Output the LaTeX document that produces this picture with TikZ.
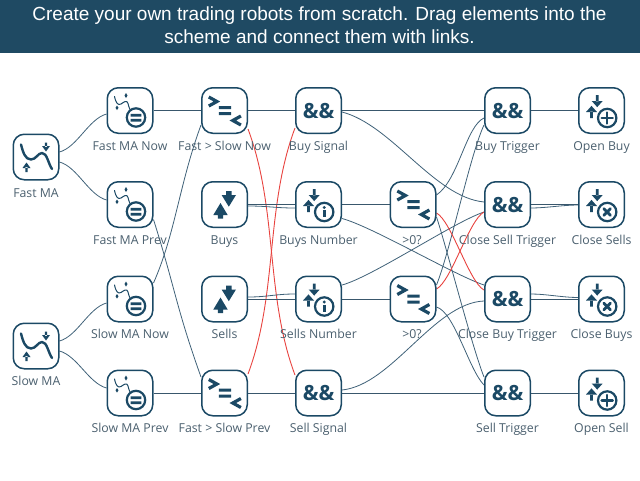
\documentclass[tikz,border=0pt]{standalone}
\usepackage{fontspec}
\setmainfont{Liberation Sans}
\newfontfamily\labfont{Open Sans}
\usetikzlibrary{backgrounds}
\definecolor{navy}{HTML}{1B4965}
\definecolor{banner}{HTML}{1F4A63}
\definecolor{linkc}{HTML}{3F6178}
\definecolor{labc}{HTML}{4A5F6E}
\definecolor{redl}{HTML}{E8433F}
\tikzset{
  box/.style={draw=navy,line width=1.5pt,fill=white,rounded corners=11pt,minimum size=45.5pt,inner sep=0pt,text=navy,font=\labfont\bfseries\fontsize{21}{21}\selectfont},
  lab/.style={anchor=base,inner sep=0pt,text=labc,font=\labfont\fontsize{12.3}{13}\selectfont},
  ttl/.style={anchor=base,inner sep=0pt,text=white,font=\fontsize{19}{21}\selectfont},
  link/.style={draw=linkc,line width=.8pt},
  straight/.style={draw=linkc!90!black,line width=1pt},
  redlink/.style={draw=redl,line width=.9pt},
  ink/.style={fill=navy,draw=none},
  stroke/.style={draw=navy,line width=#1,line cap=round,line join=round},
  iconchart/.pic={
    \draw[stroke=2.4pt] (-15,-12.5) .. controls (-13,-5) and (-11,2.5) .. (-5,2.5) .. controls (0,2.5) and (2,-4) .. (6,-4) .. controls (11,-4) and (12,6) .. (16,12);
    \fill[ink] (8.8,-14.5) rectangle (11.2,-10) (6,-11) -- (14,-11) -- (10,-5.5) -- cycle;
    \fill[ink] (-10.7,15) rectangle (-8.3,10) (-13.5,11) -- (-5.5,11) -- (-9.5,5.5) -- cycle;
  },
  iconma/.pic={
    \draw[stroke=1pt] (-15.5,-14) .. controls (-14,-7) and (-12,-5) .. (-9,-6.5) .. controls (-6,-8.5) and (-3,-11) .. (-2,-7) .. controls (-1.5,-5) and (-1,-3) .. (0,-1);
    \fill[ink] (-4,-17.5) -- (-2.5,-15) -- (-4,-12.5) -- (-5.5,-15) -- cycle;
    \fill[ink] (-13,-5) -- (-11.5,-2.7) -- (-13,-.4) -- (-14.5,-2.7) -- cycle;
    \draw[draw=navy,line width=2.2pt,fill=white] (6,7) circle (9.2);
    \fill[ink] (.6,3.4) rectangle (11.4,6) (.6,8.4) rectangle (11.4,11);
  },
  iconarrows/.pic={
    \fill[ink] (1.6,-13.5) -- (7,-13.5) -- (7,-9.5) -- (11.5,-9.5) -- (4.3,2.2) -- (-2.9,-9.5) -- (1.6,-9.5) -- cycle;
    \fill[ink] (-6.7,14) -- (-1.3,14) -- (-1.3,10.5) -- (3.2,10.5) -- (-4,-1.5) -- (-11.2,10.5) -- (-6.7,10.5) -- cycle;
  },
  iconpair/.pic={
    \fill[ink] (-5.7,-15.5) rectangle (-2.9,-9) (-9.8,-9.5) -- (1.2,-9.5) -- (-4.3,-3.4) -- cycle;
    \fill[ink] (-11.4,7.5) rectangle (-8.6,1) (-15.5,1.5) -- (-4.5,1.5) -- (-10,-4.6) -- cycle;
    \draw[draw=navy,line width=2.2pt,fill=white] (5.7,7.5) circle (9.2);
  },
  iconplus/.pic={
    \pic {iconpair};
    \draw[stroke=2.5pt] (.2,7.5) -- (11.2,7.5) (5.7,2) -- (5.7,13);
  },
  iconx/.pic={
    \pic {iconpair};
    \draw[stroke=2.8pt] (2.4,4.2) -- (9,10.8) (9,4.2) -- (2.4,10.8);
  },
  iconinfo/.pic={
    \pic {iconpair};
    \fill[ink] (5.7,3) circle (1.6);
    \fill[ink] (4.3,5.6) rectangle (7.1,12.8);
  },
  icongel/.pic={
    \draw[stroke=3.2pt,line cap=butt,line join=miter] (-15.7,-13.5) -- (-7.6,-9) -- (-15.7,-4.5);
    \fill[ink] (-5.7,-4.3) rectangle (6.7,-1.4) (-5.7,1.6) rectangle (6.7,4.5);
    \draw[stroke=3.2pt,line cap=butt,line join=miter] (16.4,5.5) -- (8.3,10) -- (16.4,14.5);
  },
}
\begin{document}
\begin{tikzpicture}[x=1pt,y=-1pt]
\useasboundingbox (0,0) rectangle (640,480);
\fill[banner] (0,0) rectangle (640,53);
\node[ttl] (t1) at (319.5,20) {Create your own trading robots from scratch. Drag elements into the};
\node[ttl] (t2) at (319.5,43) {scheme and connect them with links.};
% boxes
\node[box] (fm) at (36,157) {};
\node[box] (sm) at (36,346) {};
\node[box] (fmn) at (130,110.5) {};
\node[box] (fmp) at (130,204.5) {};
\node[box] (smn) at (130,299) {};
\node[box] (smp) at (130,393) {};
\node[box] (fsn) at (224.5,110.5) {};
\node[box] (buys) at (224.5,204.5) {};
\node[box] (sells) at (224.5,299) {};
\node[box] (fsp) at (224.5,393) {};
\node[box] (bs) at (318.5,110.5) {\&\&};
\node[box] (bn) at (318.5,204.5) {};
\node[box] (sn) at (318.5,299) {};
\node[box] (ss) at (318.5,393) {\&\&};
\node[box] (g1) at (413,204.5) {};
\node[box] (g2) at (413,299) {};
\node[box] (bt) at (507.5,110.5) {\&\&};
\node[box] (cst) at (507.5,204.5) {\&\&};
\node[box] (cbt) at (507.5,299) {\&\&};
\node[box] (st) at (507.5,393) {\&\&};
\node[box] (ob) at (601.5,110.5) {};
\node[box] (cs) at (601.5,204.5) {};
\node[box] (cb) at (601.5,299) {};
\node[box] (os) at (601.5,393) {};
% icons
\pic at (fm) {iconchart};
\pic at (sm) {iconchart};
\pic at (fmn) {iconma};
\pic at (fmp) {iconma};
\pic at (smn) {iconma};
\pic at (smp) {iconma};
\pic at (fsn) {icongel};
\pic at (fsp) {icongel};
\pic at (g1) {icongel};
\pic at (g2) {icongel};
\pic at (buys) {iconarrows};
\pic at (sells) {iconarrows};
\pic at (bn) {iconinfo};
\pic at (sn) {iconinfo};
\pic at (ob) {iconplus};
\pic at (os) {iconplus};
\pic at (cs) {iconx};
\pic at (cb) {iconx};
% labels
\node[lab] (lfm) at (36,197) {Fast MA};
\node[lab] (lsm) at (36,385) {Slow MA};
\node[lab] (lfmn) at (130,150) {Fast MA Now};
\node[lab] (lfmp) at (130,244) {Fast MA Prev};
\node[lab] (lsmn) at (130,338) {Slow MA Now};
\node[lab] (lsmp) at (130,432) {Slow MA Prev};
\node[lab] (lfsn) at (224.5,150) {Fast > Slow Now};
\node[lab] (lbuys) at (224.5,244) {Buys};
\node[lab] (lsells) at (224.5,338) {Sells};
\node[lab] (lfsp) at (224.5,432) {Fast > Slow Prev};
\node[lab] (lbs) at (318.5,150) {Buy Signal};
\node[lab] (lbn) at (318.5,244) {Buys Number};
\node[lab] (lsn) at (318.5,338) {Sells Number};
\node[lab] (lss) at (318.5,432) {Sell Signal};
\node[lab] (lg1) at (412,244) {>0?};
\node[lab] (lg2) at (412,338) {>0?};
\node[lab] (lbt) at (507.5,150) {Buy Trigger};
\node[lab] (lcst) at (507.5,244) {Close Sell Trigger};
\node[lab] (lcbt) at (507.5,338) {Close Buy Trigger};
\node[lab] (lst) at (507.5,432) {Sell Trigger};
\node[lab] (lob) at (601.5,150) {Open Buy};
\node[lab] (lcs) at (601.5,244) {Close Sells};
\node[lab] (lcb) at (601.5,338) {Close Buys};
\node[lab] (los) at (601.5,432) {Open Sell};
% connectors
\begin{scope}[on background layer]
\draw[link] ([yshift=5pt]fm.east) .. controls +(18,-5) and +(-18,5) .. ([yshift=-3.5pt]fmn.west);
\draw[link] ([yshift=-5pt]fm.east) .. controls +(18,5) and +(-18,-5) .. ([yshift=4.5pt]fmp.west);
\draw[link] ([yshift=5pt]sm.east) .. controls +(18,-5) and +(-18,5) .. ([yshift=-4pt]smn.west);
\draw[link] ([yshift=-5pt]sm.east) .. controls +(18,5) and +(-18,-5) .. ([yshift=5pt]smp.west);
\draw[straight] (fmn) -- (fsn);
\draw[straight] (smp) -- (fsp);
\draw[link] ([yshift=-15pt]fmp.east) .. controls +(22,70) and +(-25,-70) .. ([yshift=16pt]fsp.west);
\draw[link] ([yshift=16pt]smn.east) .. controls +(22,-50) and +(-22,60) .. ([yshift=-14.5pt]fsn.west);
\draw[straight] (fsn) -- (bs);
\draw[straight] (fsp) -- (ss);
\draw[redlink] ([yshift=-18.5pt]fsn.east) .. controls +(30,80) and +(-30,-80) .. ([yshift=18pt]ss.west);
\draw[redlink] ([yshift=19pt]fsp.east) .. controls +(30,-80) and +(-30,80) .. ([yshift=-17.5pt]bs.west);
\draw[straight] (buys) -- (bn);
\draw[link] ([yshift=-1.5pt]buys.east) .. controls +(20,0) and +(-20,0) .. ([yshift=-3.5pt]bn.west);
\draw[straight] (sells) -- (sn);
\draw[link] ([yshift=2pt]sells.east) .. controls +(20,0) and +(-20,0) .. ([yshift=5pt]sn.west);
\draw[straight] (bn) -- (g1);
\draw[straight] (sn) -- (g2);
\draw[straight] (bs) -- (bt);
\draw[straight] (ss) -- (st);
\draw[link] ([yshift=-1.5pt]bs.east) .. controls +(50,13) and +(-50,-5) .. ([yshift=2.5pt]cst.west);
\draw[link] ([yshift=3pt]ss.east) .. controls +(50,-5) and +(-50,2) .. ([yshift=-2pt]cbt.west);
\draw[link] ([yshift=-14pt]bn.east) .. controls +(30,8) and +(-30,-10) .. ([yshift=14pt]cbt.west);
\draw[link] ([yshift=14pt]sn.east) .. controls +(30,-8) and +(-30,10) .. ([yshift=-7.5pt]cst.west);
\draw[link] ([yshift=9.5pt]g1.east) .. controls +(22,-15) and +(-18,8) .. ([yshift=-7.5pt]bt.west);
\draw[link] ([yshift=14pt]g2.east) .. controls +(14,-35) and +(-14,30) .. ([yshift=-14.5pt]bt.west);
\draw[link] ([yshift=-12.5pt]g1.east) .. controls +(10,30) and +(-12,-30) .. ([yshift=16pt]st.west);
\draw[link] ([yshift=-8pt]g2.east) .. controls +(18,5) and +(-15,-15) .. ([yshift=8pt]st.west);
\draw[redlink] ([yshift=-8.5pt]g1.east) .. controls +(15,8) and +(-15,-8) .. ([yshift=9pt]cbt.west);
\draw[redlink] ([yshift=10pt]g2.east) .. controls +(15,-8) and +(-15,8) .. ([yshift=-7.5pt]cst.west);
\draw[straight] (bt) -- (ob);
\draw[straight] (st) -- (os);
\draw[straight] (cst) -- (cs);
\draw[link] ([yshift=-3.5pt]cst.east) .. controls +(15,0) and +(-15,0) .. ([yshift=-.5pt]cs.west);
\draw[straight] (cbt) -- (cb);
\draw[link] ([yshift=5pt]cbt.east) .. controls +(15,0) and +(-15,0) .. ([yshift=1.5pt]cb.west);
\end{scope}
\end{tikzpicture}
\end{document}
